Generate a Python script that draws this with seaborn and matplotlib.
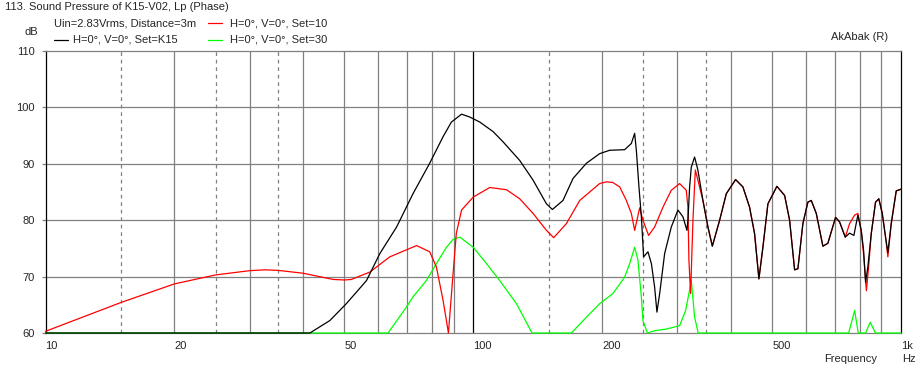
import matplotlib
matplotlib.use("Agg")
import matplotlib.pyplot as plt
import seaborn as sns
from matplotlib.lines import Line2D
from matplotlib.ticker import FixedLocator, NullFormatter

# Set=K15 (black)
k15_freq = [10, 41.5, 46.2, 50.5, 56.3, 60.5, 66.2, 72.3, 79.1, 85.0, 88.9, 93.9, 98.1,
            103.6, 111.3, 117.4, 128.4, 138.0, 148.3, 153.1, 162.1, 171.1, 183.9, 197.5,
            208.4, 225.9, 234.2, 238.4, 240.6, 244.0, 247.2, 250.2, 256.1, 260.9, 265.5,
            268.8, 272.8, 280.2, 290.4, 301.0, 309.2, 315.9, 317.6, 320.5, 323.4, 329.2,
            335.1, 344.3, 353.7, 362.2, 376.7, 390.5, 410.5, 427.0, 442.6, 454.7, 465.4,
            475.5, 488.5, 512.7, 534.4, 549.0, 564.0, 574.1, 589.7, 605.7, 617.0, 633.8,
            656.7, 674.5, 703.1, 718.4, 740.8, 758.2, 775.9, 792.8, 807.4, 817.5, 826.4,
            836.5, 852.0, 871.9, 887.5, 904.0, 920.2, 931.7, 948.8, 974.7, 992.0, 1000]
k15_db = [60, 60, 62.2, 65.2, 69.3, 74.1, 78.8, 84.7, 90.1, 94.8, 97.4, 98.8, 98.3,
          97.4, 95.7, 93.9, 90.6, 87.1, 82.9, 81.9, 83.5, 87.4, 90.1, 91.8,
          92.4, 92.5, 93.6, 95.4, 92.4, 85.9, 80.6, 73.5, 74.4, 72.3, 68.1,
          63.7, 67.0, 74.1, 78.8, 81.8, 80.6, 78.2, 80.0, 85.9, 89.4, 91.2,
          88.9, 83.5, 78.8, 75.4, 80.0, 84.7, 87.2, 85.9, 82.3, 77.6, 69.6,
          75.2, 82.9, 86.0, 84.4, 80.0, 71.2, 71.4, 79.4, 83.2, 83.5, 81.2,
          75.4, 75.9, 80.5, 79.7, 77.0, 77.7, 77.3, 80.9, 78.2, 74.7, 69.0,
          71.7, 77.6, 83.2, 83.8, 81.2, 77.0, 74.3, 79.4, 85.2, 85.4, 85.5]

# Set=10 (red)
set10_freq = [10, 15, 20, 25, 30, 32.6, 35, 40, 47, 50, 51.9, 57.3, 63.8, 73.7, 79.1,
              82.0, 85.0, 87.5, 89.7, 91.3, 93.9, 100, 109.3, 119.6, 128.4, 138.0, 148.3,
              154.2, 165.1, 177.4, 197.5, 204.8, 211.8, 220.0, 228.0, 234.2, 238.4, 241.4,
              244.9, 249.3, 257.0, 265.5, 277.6, 290.4, 303.7, 314.8, 317.6, 319.3, 322.2,
              326.3, 330.5, 335.1, 344.3, 353.7, 362.2, 376.7, 390.5, 410.5, 427.0, 442.6,
              454.7, 465.4, 475.5, 488.5, 512.7, 534.4, 549.0, 564.0, 574.1, 589.7, 605.7,
              617.0, 633.8, 656.7, 674.5, 703.1, 718.4, 740.8, 758.2, 779.0, 792.8, 807.4,
              817.5, 830.0, 840.0, 852.0, 871.9, 887.5, 904.0, 920.2, 931.7, 948.8, 974.7,
              992.0, 1000]
set10_db = [60.3, 65.4, 68.7, 70.3, 71.05, 71.2, 71.1, 70.6, 69.5, 69.4, 69.5, 70.8, 73.5,
            75.5, 74.4, 71.7, 65.8, 60, 70.5, 77.7, 81.8, 84.1, 85.8, 85.4, 83.8, 81.2, 78.2,
            76.9, 79.4, 83.5, 86.5, 86.8, 86.7, 85.9, 83.5, 81.2, 78.2, 80.0,
            82.2, 80.0, 77.3, 78.8, 82.3, 85.3, 86.5, 85.3, 82.3, 72.9, 67.0,
            80.0, 88.9, 87.1, 83.5, 78.8, 75.4, 80.0, 84.7, 87.2, 85.9, 82.3,
            77.6, 69.6, 75.2, 82.9, 86.0, 84.4, 80.0, 71.2, 71.4, 79.4, 83.2,
            83.5, 81.2, 75.4, 75.9, 80.5, 79.7, 77.0, 79.4, 80.9, 81.2, 78.0,
            74.0, 67.5, 71.7, 77.6, 83.2, 83.8, 81.2, 77.0, 73.5, 79.4, 85.2,
            85.4, 85.5]

# Set=30 (green)
set30_freq = [10, 63.2, 69.8, 72.3, 77.7, 82.0, 86.6, 89.7, 93.0, 100, 107.4, 115.3, 126.2,
              137.2, 169.6, 183.9, 197.5, 212.1, 225.9, 232.1, 238.4, 242.7, 247.2, 249.3,
              255.3, 265.5, 282.8, 303.7, 313.7, 319.3, 323.4, 329.2, 335.7, 754.5, 779.2,
              794.3, 826.4, 847.2, 871.9, 1000]
set30_db = [60, 60, 64.6, 66.4, 69.3, 72.3, 75.2, 76.6, 77.0, 75.2, 72.3, 69.3, 65.2,
            60, 60, 62.8, 65.2, 67.0, 69.9, 72.3, 75.2, 72.9, 66.4, 62.2,
            60, 60.4, 60.7, 61.3, 64.0, 67.0, 69.3, 62.8, 60, 60, 64.0,
            60, 60, 61.9, 60, 60]

solid_grid = [20, 30, 40, 50, 60, 70, 80, 90, 200, 300, 400, 500, 600, 700, 800, 900]
dashed_grid = [15, 25, 35, 150, 250, 350]
x_ticks = [10, 20, 50, 100, 200, 500, 1000]
x_labels = ["10", "20", "50", "100", "200", "500", "1k"]
y_ticks = [60, 70, 80, 90, 100, 110]

W, H = 924, 371


def fx(x):
    return x / W


def fy(y):
    return 1 - y / H


def plot_sound_pressure():
    sns.set_style("white")
    plt.rcParams["font.family"] = ["Liberation Sans", "DejaVu Sans"]
    plt.rcParams["font.size"] = 8

    fig = plt.figure(figsize=(W / 100, H / 100), dpi=100)
    ax = fig.add_axes([fx(45.5), fy(333), (901 - 45.5) / W, (333 - 51) / H])

    gray = "#808080"
    for f in solid_grid:
        ax.axvline(f, color=gray, lw=0.9, zorder=1)
    for f in dashed_grid:
        ax.axvline(f, color=gray, lw=0.9, ls=(0, (3, 3)), zorder=1)
    ax.axvline(100, color="black", lw=0.9, zorder=1)
    for v in y_ticks[1:-1]:
        ax.axhline(v, color=gray, lw=0.9, zorder=1)

    lw = 0.9
    sns.lineplot(x=set30_freq, y=set30_db, ax=ax, color="#00ff00", lw=lw,
                 estimator=None, sort=False, clip_on=False, zorder=3)
    sns.lineplot(x=set10_freq, y=set10_db, ax=ax, color="#ff0000", lw=lw,
                 estimator=None, sort=False, clip_on=False, zorder=4)
    sns.lineplot(x=k15_freq, y=k15_db, ax=ax, color="black", lw=lw,
                 estimator=None, sort=False, clip_on=False, zorder=5)

    ax.set_xscale("log")
    ax.set_xlim(10, 1000)
    ax.set_ylim(60, 110)

    ax.xaxis.set_major_locator(FixedLocator(x_ticks))
    ax.set_xticklabels(x_labels, ha="left")
    ax.xaxis.set_minor_locator(FixedLocator([10, 100, 1000]))
    ax.xaxis.set_minor_formatter(NullFormatter())
    ax.tick_params(axis="x", which="major", length=0, pad=6, labelsize=8)
    ax.tick_params(axis="x", which="minor", length=3, width=0.9, color="black", bottom=True)
    ax.set_yticks(y_ticks)
    ax.tick_params(axis="y", length=3, width=0.9, color=gray, pad=5, labelsize=8, left=True)

    for s in ["left", "right"]:
        ax.spines[s].set_color("black")
        ax.spines[s].set_linewidth(0.9)
    for s in ["top", "bottom"]:
        ax.spines[s].set_color(gray)
        ax.spines[s].set_linewidth(0.9)
    ax.set_xlabel("")
    ax.set_ylabel("")

    # header texts
    fig.text(fx(5), fy(7), "113. Sound Pressure of K15-V02, Lp (Phase)", va="center", ha="left")
    fig.text(fx(54), fy(23), "Uin=2.83Vrms, Distance=3m", va="center", ha="left")
    fig.text(fx(73), fy(40), "H=0°, V=0°, Set=K15", va="center", ha="left")
    fig.text(fx(230), fy(23), "H=0°, V=0°, Set=10", va="center", ha="left")
    fig.text(fx(230), fy(40), "H=0°, V=0°, Set=30", va="center", ha="left")
    for (x0, y0, c) in [(54, 40, "black"), (208, 23, "#ff0000"), (208, 40, "#00ff00")]:
        fig.add_artist(Line2D([fx(x0), fx(x0 + 14)], [fy(y0), fy(y0)], color=c, lw=0.9))
    fig.text(fx(31), fy(32), "dB", va="center", ha="center")
    fig.text(fx(888), fy(37), "AkAbak (R)", va="center", ha="right")
    fig.text(fx(877), fy(359), "Frequency", va="center", ha="right")
    fig.text(fx(902), fy(359), "Hz", va="center", ha="left")

    fig.savefig("out.png", dpi=100)


if __name__ == "__main__":
    plot_sound_pressure()
